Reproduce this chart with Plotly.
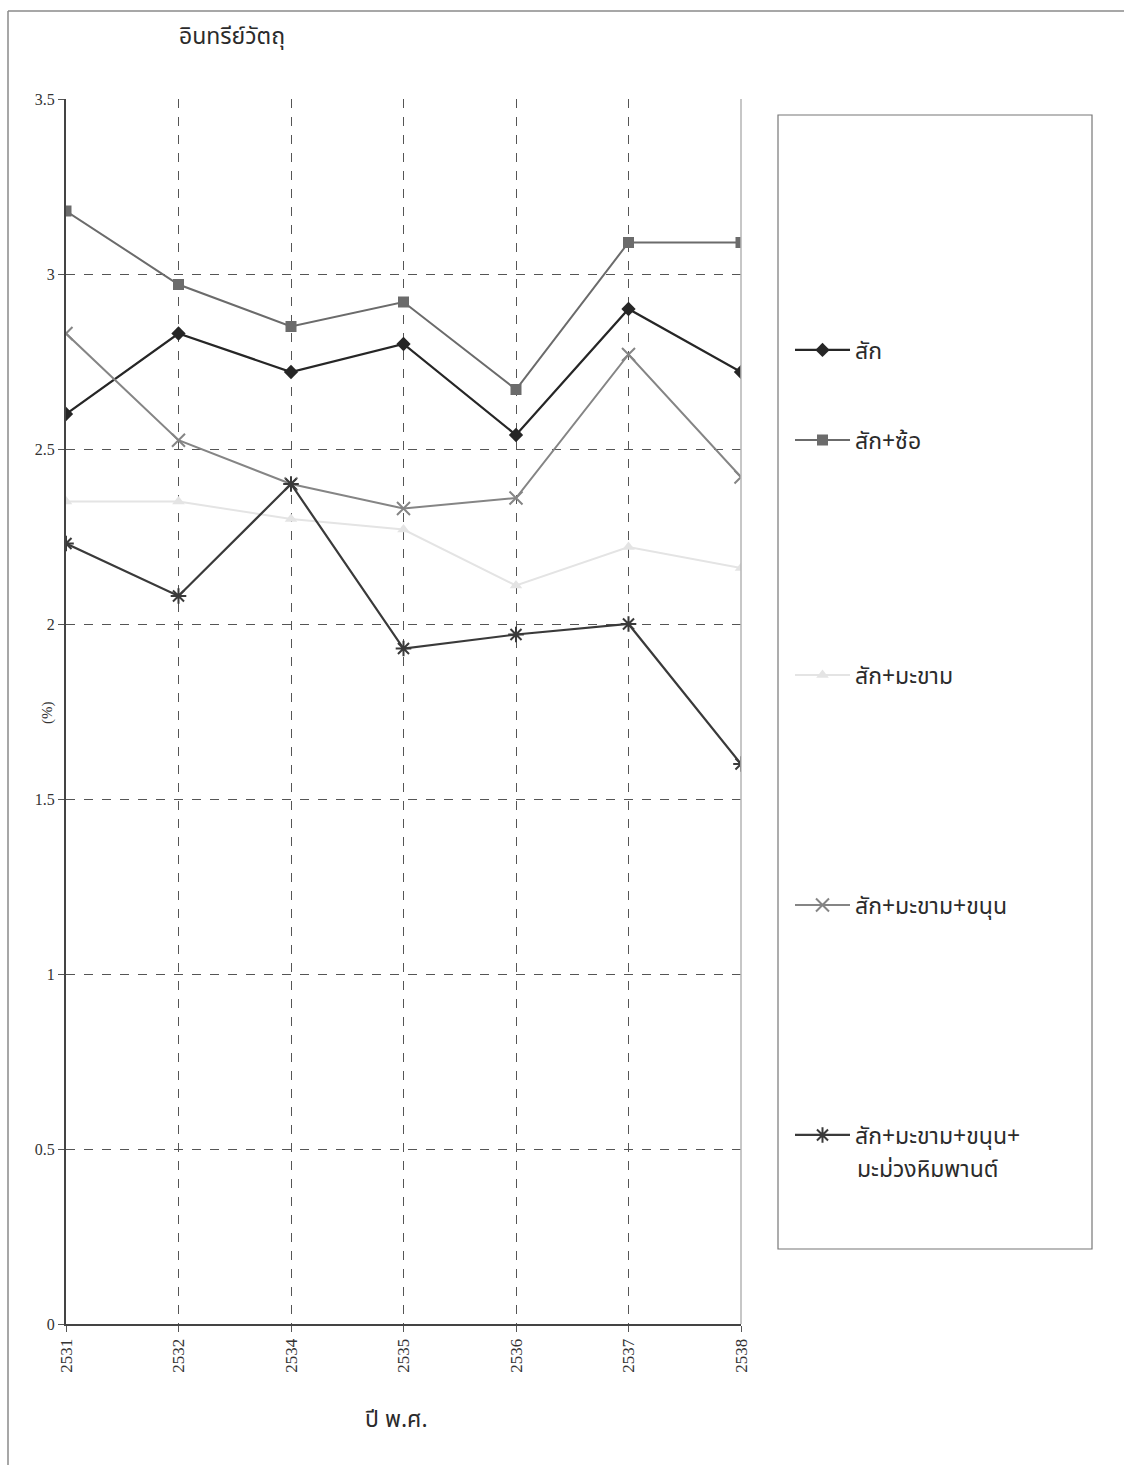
import plotly.graph_objects as go

# Years (Buddhist Era) shown on the category axis
years = ["2531", "2532", "2534", "2535", "2536", "2537", "2538"]

# Organic matter (%) per planting scheme
sak = [2.60, 2.83, 2.72, 2.80, 2.54, 2.90, 2.72]
sak_so = [3.18, 2.97, 2.85, 2.92, 2.67, 3.09, 3.09]
sak_makham = [2.35, 2.35, 2.30, 2.27, 2.11, 2.22, 2.16]
sak_makham_khanun = [2.83, 2.525, 2.40, 2.33, 2.36, 2.77, 2.42]
sak_makham_khanun_mamuang = [2.23, 2.08, 2.40, 1.93, 1.97, 2.00, 1.60]

names = ["สัก", "สัก+ซ้อ", "สัก+มะขาม", "สัก+มะขาม+ขนุน", "สัก+มะขาม+ขนุน+"]
last_name_line2 = "มะม่วงหิมพานต์"
series = [sak, sak_so, sak_makham, sak_makham_khanun, sak_makham_khanun_mamuang]

W, H = 1124, 1465
L, R, T, B = 66, 383, 99, 141
PW, PH = W - L - R, H - T - B

def px(x):
    return (x - L) / PW

def py(y):
    return (H - B - y) / PH

THAI = "Noto Sans Thai, Noto Sans, Tahoma, sans-serif"
SERIF = "Liberation Serif, Times New Roman, serif"

styles = [
    dict(color="#262626", symbol="diamond", size=11, width=2.2, lw=0),
    dict(color="#6b6b6b", symbol="square", size=11, width=2.0, lw=0),
    dict(color="#e4e4e4", symbol="triangle-up", size=11, width=2.0, lw=0),
    dict(color="#858585", symbol="x-thin-open", size=13, width=2.0, lw=2),
    dict(color="#3a3a3a", symbol="asterisk-open", size=13, width=2.2, lw=2),
]

# vertical centre of each legend entry (pixels from top)
legend_y = [350, 440, 675, 905, 1135]
LEGEND_X = 790
TEXT_X = LEGEND_X + 65

fig = go.Figure()
for i, (name, vals, st) in enumerate(zip(names, series, styles)):
    lname = "legend" if i == 0 else f"legend{i + 1}"
    fig.add_trace(go.Scatter(
        x=years, y=vals, name=name, mode="lines+markers",
        line=dict(color=st["color"], width=st["width"]),
        marker=dict(symbol=st["symbol"], size=st["size"], color=st["color"],
                    line=dict(color=st["color"], width=st["lw"])),
        legend=lname,
    ))

legend_common = dict(
    bgcolor="rgba(0,0,0,0)", borderwidth=0,
    font=dict(family=THAI, size=23, color="#2b2b2b"),
    xanchor="left", itemwidth=55,
)
layout_legends = {}
for i, yy in enumerate(legend_y):
    key = "legend" if i == 0 else f"legend{i + 1}"
    d = dict(legend_common)
    d.update(yanchor="middle", y=py(yy), x=px(LEGEND_X))
    layout_legends[key] = d

fig.update_layout(
    width=W, height=H,
    margin=dict(l=L, r=R, t=T, b=B, pad=0),
    paper_bgcolor="white", plot_bgcolor="white",
    showlegend=True,
    **layout_legends,
    xaxis=dict(
        type="category", range=[0, 6],
        showgrid=True, gridcolor="#555555", griddash="dash", gridwidth=1,
        showline=True, linecolor="#444444", linewidth=2,
        ticks="outside", ticklen=6, tickcolor="#555555",
        tickangle=-90,
        tickfont=dict(family=SERIF, size=17, color="#333333"),
        zeroline=False,
    ),
    yaxis=dict(
        range=[0, 3.5],
        tickvals=[0, 0.5, 1, 1.5, 2, 2.5, 3, 3.5],
        ticktext=["0", "0.5", "1", "1.5", "2", "2.5", "3", "3.5"],
        showgrid=True, gridcolor="#555555", griddash="dash", gridwidth=1,
        showline=True, linecolor="#444444", linewidth=2,
        ticks="outside", ticklen=6, tickcolor="#555555",
        tickfont=dict(family=SERIF, size=16, color="#333333"),
        zeroline=False,
    ),
    annotations=[
        dict(text="อินทรีย์วัตถุ", xref="paper", yref="paper",
             x=px(232), y=py(37), xanchor="center", yanchor="middle",
             showarrow=False,
             font=dict(family=THAI, size=23, color="#2b2b2b")),
        dict(text="ปี พ.ศ.", xref="paper", yref="paper",
             x=px(396), y=py(1420), xanchor="center", yanchor="middle",
             showarrow=False,
             font=dict(family=THAI, size=23, color="#2b2b2b")),
        dict(text="(%)", xref="paper", yref="paper",
             x=px(47), y=py(713), xanchor="center", yanchor="middle",
             showarrow=False, textangle=-90,
             font=dict(family=SERIF, size=15, color="#333333")),
        dict(text=last_name_line2, xref="paper", yref="paper",
             x=px(TEXT_X), y=py(1170), xanchor="left", yanchor="middle",
             showarrow=False,
             font=dict(family=THAI, size=23, color="#2b2b2b")),
    ],
    shapes=[
        # right edge of plotting area
        dict(type="line", xref="paper", yref="paper", x0=1, x1=1, y0=0, y1=1,
             line=dict(color="#b5b5b5", width=1.5)),
        # legend frame
        dict(type="rect", xref="paper", yref="paper",
             x0=px(778), x1=px(1092), y0=py(1249), y1=py(115),
             line=dict(color="#777777", width=1.2)),
        # outer frame (top and left edges)
        dict(type="line", xref="paper", yref="paper",
             x0=px(8), x1=px(1124), y0=py(11), y1=py(11),
             line=dict(color="#8a8a8a", width=1.5)),
        dict(type="line", xref="paper", yref="paper",
             x0=px(8), x1=px(8), y0=py(11), y1=py(1465),
             line=dict(color="#8a8a8a", width=1.5)),
    ],
)

fig.write_html("out.html")
